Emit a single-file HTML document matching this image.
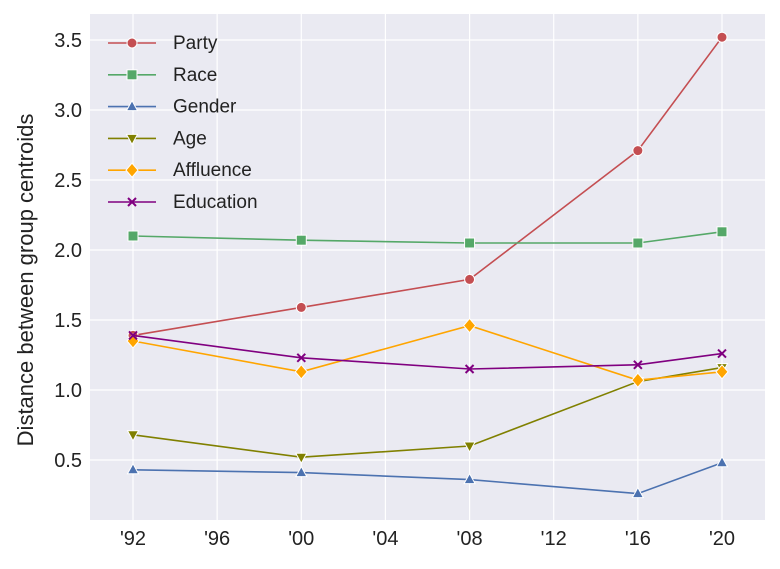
<!DOCTYPE html>
<html><head><meta charset="utf-8"><style>
body{margin:0;background:#fff}
svg text{font-family:"Liberation Sans",sans-serif;fill:#222}
</style></head><body>
<svg width="780" height="564">
<rect x="90" y="14" width="675" height="506" fill="#eaeaf2"/>
<g id="grid"></g><g id="series"></g><g id="ticks"></g><g id="legend"></g>
<text transform="translate(33,280) rotate(-90)" text-anchor="middle" font-size="22">Distance between group centroids</text>
</svg>
<script>
const years=[1992,2000,2008,2016,2020];
const seriesNames=["Party","Race","Gender","Age","Affluence","Education"];
const party=[1.39,1.59,1.79,2.71,3.52];
const race=[2.10,2.07,2.05,2.05,2.13];
const gender=[0.43,0.41,0.36,0.26,0.48];
const age=[0.68,0.52,0.60,1.06,1.16];
const affluence=[1.35,1.13,1.46,1.07,1.13];
const education=[1.39,1.23,1.15,1.18,1.26];
const xTicks=[1992,1996,2000,2004,2008,2012,2016,2020];
const xTickLabels=["'92","'96","'00","'04","'08","'12","'16","'20"];
const yTicks=[0.5,1.0,1.5,2.0,2.5,3.0,3.5];
const colors=["#c44e52","#55a868","#4c72b0","#808000","#ffa500","#800080"];
const markers=["circle","square","triangle","tridown","diamond","x"];
const data=[party,race,gender,age,affluence,education];
const NS="http://www.w3.org/2000/svg";
const X=v=>133+(v-1992)*(589/28);
const Y=v=>390-(v-1)*140;
function mk(tag,attrs,parent){const e=document.createElementNS(NS,tag);for(const k in attrs)e.setAttribute(k,attrs[k]);parent.appendChild(e);return e;}
const G=document.getElementById('grid'),S=document.getElementById('series'),T=document.getElementById('ticks'),L=document.getElementById('legend');
xTicks.forEach((t,i)=>{
 const l=mk('line',{x1:X(t),x2:X(t),y1:14,y2:520,stroke:'#fff','stroke-width':1.2},G);
 
 
 const tx=mk('text',{x:X(t),y:545,'text-anchor':'middle','font-size':20},T);tx.textContent=xTickLabels[i];
 
 
});
yTicks.forEach(t=>{
 const l=mk('line',{x1:90,x2:765,y1:Y(t),y2:Y(t),stroke:'#fff','stroke-width':1.2},G);
 
 
 const tx=mk('text',{x:82,y:Y(t)+7,'text-anchor':'end','font-size':20},T);tx.textContent=t.toFixed(1);
 
 
});
function marker(type,x,y,c,p){
 let e;
 if(type==='circle')e=mk('circle',{cx:x,cy:y,r:5,fill:c,stroke:'#fff','stroke-width':1},p);
 else if(type==='square')e=mk('rect',{x:x-5,y:y-5,width:10,height:10,fill:c,stroke:'#fff','stroke-width':1},p);
 else if(type==='triangle')e=mk('polygon',{points:`${x},${y-6} ${x+5.5},${y+4} ${x-5.5},${y+4}`,fill:c,stroke:'#fff','stroke-width':1},p);
 else if(type==='tridown')e=mk('polygon',{points:`${x},${y+6} ${x+5.5},${y-4} ${x-5.5},${y-4}`,fill:c,stroke:'#fff','stroke-width':1},p);
 else if(type==='diamond')e=mk('polygon',{points:`${x},${y-7} ${x+6},${y} ${x},${y+7} ${x-6},${y}`,fill:c,stroke:'#fff','stroke-width':1},p);
 else e=mk('path',{d:`M${x-4},${y-4}L${x+4},${y+4}M${x-4},${y+4}L${x+4},${y-4}`,stroke:c,'stroke-width':2},p);
 return e;
}
data.forEach((arr,si)=>{
 const g=mk('g',{},S);
 
 
 mk('polyline',{points:arr.map((v,i)=>X(years[i])+','+Y(v)).join(' '),fill:'none',stroke:colors[si],'stroke-width':1.6},g);
 arr.forEach((v,i)=>{
  const m=marker(markers[si],X(years[i]),Y(v),colors[si],g);
  
  
 });
 const ly=43+si*31.8;
 const lg=mk('g',{},L);
 
 
 mk('line',{x1:108,x2:156,y1:ly,y2:ly,stroke:colors[si],'stroke-width':1.6},lg);
 marker(markers[si],132,ly,colors[si],lg);
 const t=mk('text',{x:173,y:ly+6,'font-size':19},lg);t.textContent=seriesNames[si];
});
</script>
</body></html>
